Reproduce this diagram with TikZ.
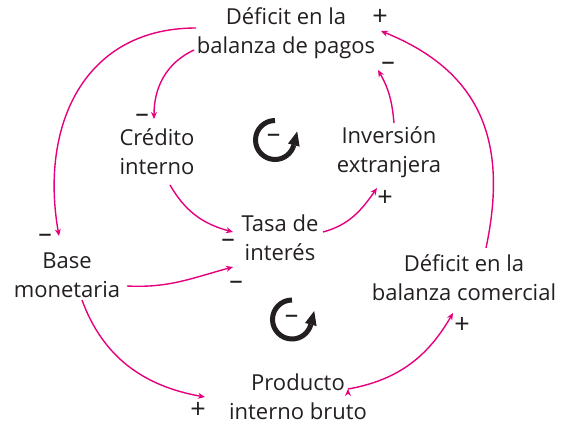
\documentclass[tikz,border=0pt]{standalone}
\usepackage{fontspec}
\setmainfont{Open Sans}
\usepackage{xcolor}
\usetikzlibrary{arrows.meta}
\definecolor{linkpink}{RGB}{229,0,125}
\definecolor{inkgray}{RGB}{35,31,32}

\begin{document}
\begin{tikzpicture}[x=1pt,y=1pt,auto,
    var node/.style={align=center,inner sep=1pt,text=inkgray,font=\fontsize{22}{29}\selectfont},
    sign node/.style={inner sep=0pt,text=inkgray,font=\fontsize{27}{27}\selectfont},
    link/.style={-{Stealth[length=7pt,width=6pt]},draw=linkpink,line width=1.4pt},
    loop mark/.style={draw=inkgray,line width=5pt},
    loop tip/.style={fill=inkgray}]
    \useasboundingbox (0,0) rectangle (566,424);

    \node[var node] (bp)  at (286,391) {Déficit en la\\balanza de pagos};
    \node[var node] (ci)  at (157,272) {Crédito\\interno};
    \node[var node] (ie)  at (389,272) {Inversión\\extranjera};
    \node[var node] (ti)  at (280,186) {Tasa de\\interés};
    \node[var node] (bm)  at (67,149)  {Base\\monetaria};
    \node[var node] (bc)  at (464,146) {Déficit en la\\balanza comercial};
    \node[var node] (pib) at (298,27)  {Producto\\interno bruto};

    % loop markers
    \node[sign node] (l1) at (273.5,286) {--};
    \node[sign node] (l2) at (291.5,105) {--};
    \draw[loop mark] (275,284) ++(90:19.5) arc (90:345:19.5);
    \fill[loop tip,shift={(275,284)}] (24.6,-6.6) -- (22.2,8.5) -- (13.0,-3.5) -- cycle;
    \draw[loop mark] (292,104.5) ++(90:19.5) arc (90:345:19.5);
    \fill[loop tip,shift={(292,104.5)}] (24.6,-6.6) -- (22.2,8.5) -- (13.0,-3.5) -- cycle;

    % polarity signs
    \node[sign node] (s1) at (380,407) {+};
    \node[sign node] (s2) at (388,358) {--};
    \node[sign node] (s3) at (142,306) {--};
    \node[sign node] (s4) at (385,226) {+};
    \node[sign node] (s5) at (45,186)  {--};
    \node[sign node] (s6) at (228,181) {--};
    \node[sign node] (s7) at (236,139) {--};
    \node[sign node] (s8) at (462,99)  {+};
    \node[sign node] (s9) at (198,14)  {+};

    \path[link]
        ([shift={(-90,5)}]bp.center) edge[out=180, in=100, looseness=1.15] ([shift={(-8,39)}]bm.center)
        ([shift={(-92,-17)}]bp.center) edge[out=205, in=90] ([shift={(-3,33)}]ci.center)
        ([shift={(13,-33)}]ci.center) edge[out=-60, in=165] ([shift={(-47,6)}]ti.center)
        ([shift={(60,-11)}]bm.center) edge[out=-3, in=195] ([shift={(-47,-29)}]ti.center)
        ([shift={(43,6)}]ti.center) edge[out=15, in=235] ([shift={(-12,-36)}]ie.center)
        ([shift={(5,29)}]ie.center) edge[out=95, in=-60] ([shift={(92,-37)}]bp.center)
        ([shift={(22,30)}]bc.center) edge[out=78, in=-22, looseness=1.15] ([shift={(95,2)}]bp.center)
        ([shift={(15,-25)}]bm.center) edge[out=-70, in=170] ([shift={(-93,0)}]pib.center)
        ([shift={(50,8)}]pib.center) edge[out=10, in=240] ([shift={(-11,-35)}]bc.center)
    ;
\end{tikzpicture}
\end{document}
